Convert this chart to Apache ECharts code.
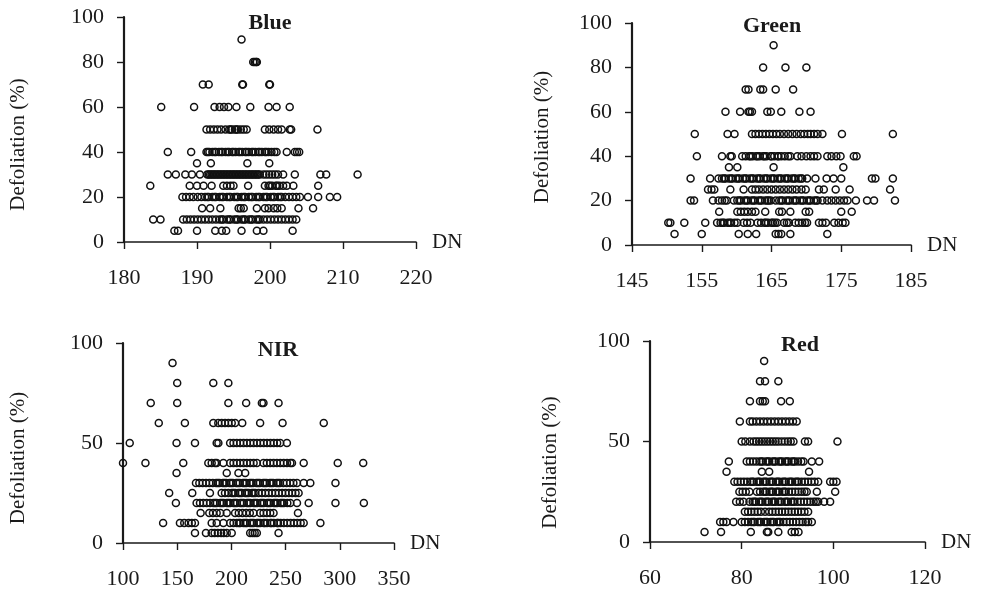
<!DOCTYPE html>
<html>
<head>
<meta charset="utf-8">
<script src="https://cdn.jsdelivr.net/npm/echarts@6/dist/echarts.min.js"></script>
<style>
  html, body { margin: 0; padding: 0; background: #fff; }
  #chart { width: 985px; height: 592px; }
</style>
</head>
<body>
<div id="chart"></div>
<script>
// rows: [defoliation level, [DN values]]
var blueRows = [
  [90, [196.1]],
  [80, [197.7, 197.9, 198.1, 198.2]],
  [70, [190.8, 191.6, 196.2, 196.3, 199.9, 200.0]],
  [60, [185.1, 189.6, 192.4, 193.1, 193.7, 194.3, 195.4, 197.3, 199.8, 200.9, 202.7]],
  [50, [191.3, 191.8, 192.3, 192.8, 193.3, 193.9, 194.4, 194.6, 194.8, 195.2, 195.4, 195.6, 196.0, 196.4, 196.8, 199.3, 199.9, 200.5, 201.1, 201.6, 202.7, 202.9, 206.5]],
  [40, [186.0, 189.2, 191.3, 191.5, 191.7, 192.1, 192.4, 192.6, 193.0, 193.3, 193.5, 193.9, 194.2, 194.4, 194.8, 195.0, 195.3, 195.7, 195.9, 196.2, 196.6, 196.8, 197.1, 197.5, 197.7, 198.0, 198.4, 198.6, 198.9, 199.3, 199.5, 199.8, 200.2, 200.6, 200.9, 202.3, 203.4, 203.7, 204.0]],
  [35, [190.0, 191.9, 196.9, 199.9]],
  [30, [186.0, 187.1, 188.4, 189.3, 190.4, 191.4, 191.6, 191.8, 192.0, 192.2, 192.4, 192.6, 192.8, 193.0, 193.2, 193.4, 193.6, 193.8, 194.0, 194.2, 194.4, 194.6, 194.8, 195.0, 195.2, 195.4, 195.6, 195.8, 196.0, 196.2, 196.4, 196.6, 196.8, 197.0, 197.2, 197.4, 197.6, 197.8, 198.0, 198.2, 198.4, 198.6, 199.1, 199.5, 199.9, 200.3, 200.7, 201.1, 201.8, 203.4, 206.9, 207.7, 212.0]],
  [25, [183.6, 189.0, 190.0, 190.9, 192.0, 193.6, 194.1, 194.6, 195.0, 197.0, 199.3, 199.8, 200.0, 200.3, 200.8, 201.0, 201.3, 201.8, 202.3, 203.2, 206.6]],
  [20, [188.0, 188.5, 189.0, 189.5, 190.1, 190.6, 191.1, 191.4, 191.6, 192.1, 192.4, 192.6, 193.1, 193.4, 193.6, 194.1, 194.4, 194.6, 195.1, 195.4, 195.6, 196.1, 196.4, 196.6, 197.1, 197.4, 197.6, 198.1, 198.4, 198.6, 199.1, 199.4, 199.6, 200.1, 200.4, 200.6, 201.1, 201.4, 201.6, 202.1, 202.6, 203.1, 203.6, 204.1, 205.2, 206.6, 208.2, 209.2]],
  [15, [190.7, 191.8, 193.2, 195.7, 196.0, 196.4, 198.2, 199.3, 199.8, 200.5, 201.0, 201.6, 203.9, 205.9]],
  [10, [184.0, 185.0, 188.1, 188.6, 189.1, 189.6, 190.1, 190.6, 191.1, 191.6, 192.1, 192.6, 193.1, 193.4, 193.6, 194.1, 194.4, 194.6, 195.1, 195.4, 195.6, 196.1, 196.4, 196.6, 197.1, 197.4, 197.6, 198.1, 198.4, 198.6, 199.1, 199.6, 200.1, 200.6, 201.1, 201.6, 202.1, 202.6, 203.1, 203.6]],
  [5, [186.9, 187.4, 190.0, 192.5, 193.4, 194.0, 196.1, 198.2, 199.1, 203.1]]
];

var greenRows = [
  [90, [165.3]],
  [80, [163.8, 167.0, 170.0]],
  [70, [161.3, 161.7, 163.4, 163.8, 165.6, 168.1]],
  [60, [158.4, 160.5, 161.7, 161.9, 162.2, 164.4, 164.9, 166.4, 169.0, 170.6]],
  [50, [154.0, 158.7, 159.7, 162.2, 162.7, 163.2, 163.7, 164.2, 164.7, 165.2, 165.7, 166.2, 166.8, 167.4, 168.0, 168.6, 169.2, 169.7, 170.2, 170.6, 171.1, 171.6, 172.3, 175.1, 182.4]],
  [40, [154.3, 157.9, 159.1, 159.3, 160.8, 161.3, 161.8, 162.0, 162.3, 162.8, 163.0, 163.3, 163.8, 164.0, 164.3, 164.9, 165.0, 165.4, 165.9, 166.0, 166.4, 166.9, 167.4, 167.7, 168.7, 169.3, 170.0, 170.6, 171.1, 171.6, 173.0, 173.6, 174.3, 174.9, 176.8, 177.2]],
  [35, [158.9, 160.1, 165.3, 175.3]],
  [30, [153.4, 156.2, 157.4, 157.9, 158.2, 158.4, 158.9, 159.2, 159.4, 159.9, 160.2, 160.4, 160.9, 161.2, 161.4, 161.9, 162.2, 162.4, 162.9, 163.2, 163.4, 163.9, 164.2, 164.4, 164.9, 165.2, 165.4, 165.9, 166.2, 166.4, 166.9, 167.2, 167.4, 167.9, 168.2, 168.4, 168.9, 169.2, 169.4, 170.1, 171.3, 172.9, 173.9, 175.0, 179.4, 179.9, 182.4]],
  [25, [155.9, 156.4, 156.8, 159.1, 161.0, 162.2, 162.7, 163.2, 163.8, 164.4, 165.0, 165.6, 166.2, 166.8, 167.4, 168.0, 168.6, 169.3, 169.9, 171.8, 172.5, 174.2, 176.2, 182.0]],
  [20, [153.4, 153.9, 156.6, 157.4, 157.9, 158.3, 158.6, 159.6, 160.1, 160.4, 160.6, 161.1, 161.4, 161.6, 162.1, 162.4, 162.6, 163.1, 163.4, 163.6, 164.1, 164.4, 164.6, 164.9, 165.6, 166.1, 166.4, 166.6, 167.1, 167.4, 167.6, 168.1, 168.4, 168.6, 169.1, 169.4, 169.6, 170.1, 170.4, 170.6, 171.1, 171.4, 171.6, 172.3, 173.0, 173.6, 174.2, 174.8, 175.4, 175.9, 177.1, 178.7, 179.7, 182.7]],
  [15, [157.5, 160.1, 160.6, 161.1, 161.6, 162.2, 162.7, 164.1, 166.1, 166.5, 167.7, 169.9, 170.4, 175.0, 176.5]],
  [10, [150.2, 150.5, 152.5, 155.5, 157.2, 157.7, 158.0, 158.2, 158.7, 159.0, 159.2, 159.7, 160.1, 161.0, 161.5, 162.0, 163.0, 163.5, 164.0, 164.2, 164.5, 165.0, 165.2, 165.5, 165.8, 166.8, 167.2, 167.5, 168.4, 168.9, 169.4, 169.8, 170.1, 171.8, 172.3, 172.8, 174.0, 174.6, 175.2, 175.6]],
  [5, [151.1, 155.0, 160.3, 161.6, 162.8, 165.6, 166.0, 166.4, 167.7, 173.0]]
];

var nirRows = [
  [90, [145.7]],
  [80, [150, 183.3, 197.2]],
  [70, [125.6, 150, 197.2, 213.6, 228.1, 229.6, 243.5]],
  [60, [133, 157.1, 183.3, 187.9, 191, 194.1, 197.2, 200.3, 203.4, 210, 226.5, 247.2, 285.2]],
  [50, [106.2, 149.4, 166.4, 186.4, 188, 198.8, 201.9, 205, 208.1, 211.2, 214.3, 217.4, 220.5, 223.6, 226.7, 229.8, 232.9, 236, 239.1, 242.2, 245, 251.2]],
  [40, [100, 120.7, 155.6, 178.7, 181.8, 184.9, 186.4, 192.6, 198.8, 201.9, 205, 208.1, 211.2, 214.3, 217.4, 220.5, 223.5, 229.6, 232.7, 235.8, 238.9, 242, 245.1, 248.2, 251.3, 254.4, 255.9, 266.7, 298.1, 321.6]],
  [35, [149.4, 195.7, 206.5, 212.7]],
  [30, [167.3, 170.4, 173.5, 176.6, 179.7, 182.8, 185.9, 187.5, 189, 192.1, 193.6, 195.2, 198.3, 199.8, 201.4, 204.5, 206, 207.6, 210.7, 212.2, 213.8, 216.9, 218.4, 220, 223.1, 224.6, 226.2, 229.3, 230.8, 232.4, 235.5, 237, 238.6, 241.7, 243.2, 244.8, 247.9, 251, 254.1, 257.2, 260.5, 266.7, 272.8, 296]],
  [25, [142.6, 163.9, 180.2, 191, 194.1, 197.2, 200.3, 201.8, 203.4, 206.5, 208, 209.6, 212.7, 214.2, 215.8, 218.9, 220.4, 222, 225.1, 228.2, 231.3, 234.4, 237.5, 240.6, 243.7, 246.8, 249.9, 253, 256.1, 259.2, 262]],
  [20, [148.8, 167.9, 171, 174.1, 177.2, 180.3, 183.4, 185, 186.5, 189.6, 191.2, 192.7, 195.8, 197.3, 198.9, 202, 203.5, 205.1, 208.2, 209.7, 211.3, 214.4, 215.9, 217.5, 220.6, 222.1, 223.7, 226.8, 228.3, 229.9, 233, 234.5, 236.1, 239.2, 240.7, 242.3, 245.4, 246.9, 248.5, 251.6, 254.3, 260.5, 271.3, 296, 322.2]],
  [15, [171.6, 179.6, 183, 186.4, 189.8, 195.7, 203.4, 206.8, 210.2, 213.6, 217, 220.4, 226.5, 229.6, 232.7, 235.8, 238.9, 261.4]],
  [10, [137, 152.5, 156.5, 160.5, 163.5, 166.4, 181.8, 186.4, 192.6, 198.8, 201.9, 205, 207, 208.1, 211.2, 213, 214.3, 217.4, 219, 220.5, 223.6, 225, 226.7, 229.8, 231, 232.9, 236, 237, 239.1, 242.2, 243, 245.3, 248.4, 251.5, 254.6, 257.7, 260.8, 263.9, 266.7, 282.1]],
  [5, [166.4, 176.5, 181.8, 184.5, 187.5, 190.5, 193, 195.7, 200.3, 217.3, 219.5, 221.5, 223.5, 243.5]]
];

var redRows = [
  [90, [84.9]],
  [80, [84.0, 85.1, 88.0]],
  [70, [81.8, 84.0, 84.6, 85.1, 88.6, 90.5]],
  [60, [79.6, 81.8, 82.4, 83.2, 84.0, 84.8, 85.6, 86.4, 87.2, 88.0, 88.8, 89.6, 90.4, 91.2, 92.0]],
  [50, [80.0, 80.8, 81.8, 82.6, 83.2, 83.8, 84.4, 85.0, 85.6, 86.2, 86.8, 87.4, 88.0, 88.7, 89.4, 90.1, 90.7, 91.3, 93.8, 94.5, 100.9]],
  [40, [77.2, 81.1, 81.8, 82.5, 83.2, 83.9, 84.3, 84.6, 85.3, 85.7, 86.0, 86.7, 87.1, 87.4, 88.1, 88.5, 88.8, 89.5, 89.9, 90.2, 90.9, 91.3, 91.6, 92.3, 93.0, 93.5, 95.3, 96.9]],
  [35, [76.7, 84.4, 86.0, 94.7]],
  [30, [78.4, 79.1, 79.8, 80.5, 81.2, 81.9, 82.3, 82.6, 83.3, 83.7, 84.0, 84.7, 85.1, 85.4, 86.1, 86.5, 86.8, 87.5, 87.9, 88.2, 88.9, 89.3, 89.6, 90.3, 90.7, 91.0, 91.7, 92.1, 92.4, 93.1, 93.8, 94.5, 95.2, 95.9, 96.7, 99.3, 100.0, 100.7]],
  [25, [79.5, 80.2, 80.9, 81.7, 83.3, 84.0, 84.7, 85.1, 85.4, 86.1, 86.5, 86.8, 87.5, 87.9, 88.2, 88.9, 89.3, 89.6, 90.3, 91.0, 91.7, 92.4, 93.1, 93.7, 94.2, 96.4, 100.4]],
  [20, [78.8, 79.6, 80.4, 81.7, 82.4, 82.8, 83.1, 83.8, 84.2, 84.5, 85.2, 85.6, 85.9, 86.6, 87.0, 87.3, 88.0, 88.4, 88.7, 89.4, 89.8, 90.1, 90.8, 91.2, 91.5, 92.2, 92.9, 93.6, 94.3, 95.0, 95.7, 96.2, 96.7, 98.0, 99.3]],
  [15, [80.7, 81.4, 82.1, 82.8, 83.5, 84.2, 85.1, 86.0, 86.7, 87.4, 88.1, 88.8, 89.5, 90.2, 90.9, 91.6, 92.3, 93.0, 93.7, 94.5]],
  [10, [75.3, 76.0, 76.7, 78.2, 80.0, 80.7, 81.4, 82.1, 82.5, 82.8, 83.5, 83.9, 84.2, 84.9, 85.3, 85.6, 86.3, 86.7, 87.0, 87.7, 88.1, 88.4, 89.1, 89.8, 90.5, 91.2, 91.9, 92.6, 93.3, 94.0, 94.5, 95.3]],
  [5, [71.9, 75.5, 82.0, 85.5, 85.8, 88.0, 90.9, 91.6, 92.4]]
];

var panelNames = ['Blue', 'Green', 'NIR', 'Red'];
var xMins = [180, 145, 100, 60];
var xMaxs = [220, 185, 350, 120];
var xSteps = [10, 10, 50, 20];
var ySteps = [20, 20, 50, 50];

function toPoints(rows) {
  var pts = [];
  rows.forEach(function (r) {
    r[1].forEach(function (x) { pts.push([x, r[0]]); });
  });
  return pts;
}

var FONT = '"Liberation Serif", "Times New Roman", serif';
var INK = '#1a1a1a';

// grid boxes
var grids = [
  { left: 124, top: 17, width: 292, height: 225 },
  { left: 632, top: 23, width: 279, height: 222 },
  { left: 123, top: 343, width: 271, height: 200 },
  { left: 650, top: 341, width: 275, height: 201 }
];
var titlePos = [[270, 12], [772, 15], [278, 339], [800, 334]];
var yNameGap = [95, 79, 94, 89];
var yNameShift = [30, 6, 30, 42];   // extra right padding pushes the rotated name down

var chart = echarts.init(document.getElementById('chart'));

var option = {
  animation: false,
  backgroundColor: '#fff',
  title: panelNames.map(function (n, i) {
    return {
      text: n, left: titlePos[i][0], top: titlePos[i][1], textAlign: 'center', padding: 0,
      textStyle: { fontFamily: FONT, fontWeight: 'bold', fontSize: 22, color: INK }
    };
  }),
  grid: grids,
  xAxis: panelNames.map(function (n, i) {
    return {
      type: 'value', gridIndex: i, min: xMins[i], max: xMaxs[i], interval: xSteps[i],
      name: 'DN', nameLocation: 'end', nameGap: 16,
      nameTextStyle: { fontFamily: FONT, fontSize: 21, color: INK, verticalAlign: 'middle' },
      axisLine: { onZero: false, lineStyle: { color: INK, width: 1.6 } },
      axisTick: { inside: false, length: 7, lineStyle: { color: INK, width: 1.4 } },
      axisLabel: { margin: 25, fontFamily: FONT, fontSize: 22, color: INK },
      splitLine: { show: false }
    };
  }),
  yAxis: panelNames.map(function (n, i) {
    return {
      type: 'value', gridIndex: i, min: 0, max: 100, interval: ySteps[i],
      name: 'Defoliation (%)', nameLocation: 'middle', nameGap: yNameGap[i], nameRotate: 90,
      nameTextStyle: { fontFamily: FONT, fontSize: 21, color: INK, padding: [0, yNameShift[i], 0, 0] },
      axisLine: { show: true, lineStyle: { color: INK, width: 2.2 } },
      axisTick: { show: true, inside: false, length: 7, lineStyle: { color: INK, width: 1.4 } },
      axisLabel: { margin: 20, fontFamily: FONT, fontSize: 22, color: INK },
      splitLine: { show: false }
    };
  }),
  series: [blueRows, greenRows, nirRows, redRows].map(function (rows, i) {
    return {
      type: 'scatter', xAxisIndex: i, yAxisIndex: i,
      symbol: 'circle', symbolSize: 7,
      itemStyle: { color: 'rgba(255,255,255,0)', borderColor: '#111', borderWidth: 1.5, opacity: 1 },
      data: toPoints(rows)
    };
  })
};

chart.setOption(option);
</script>
</body>
</html>
